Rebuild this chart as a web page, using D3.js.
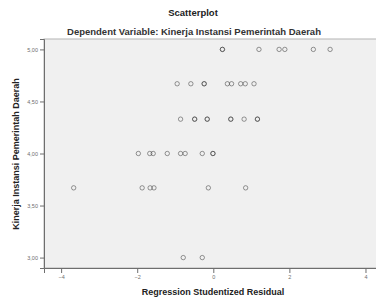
<!DOCTYPE html>
<html>
<head>
<meta charset="utf-8">
<script src="https://cdn.jsdelivr.net/npm/d3@7"></script>
<style>
  body { margin: 0; background: #fff; }
  text { font-family: "Liberation Sans", Arial, sans-serif; }
</style>
</head>
<body>
<div id="chart"></div>
<script>
"use strict"

// residuals and dependent values (overlaps listed twice)
const residual = [
  0.24, 0.24, 1.20, 1.73, 1.88, 2.63, 3.07,
  -0.95, -0.59, -0.24, -0.24, 0.37, 0.48, 0.72, 0.84, 1.07,
  -0.86, -0.49, -0.49, -0.16, -0.16, 0.46, 0.46, 0.81, 1.16, 1.16,
  -1.97, -1.67, -1.58, -1.21, -0.86, -0.74, -0.29, -0.01, -0.01,
  -3.67, -1.87, -1.66, -1.56, -0.13, 0.85,
  -0.79, -0.29
]
const kinerja = [
  5, 5, 5, 5, 5, 5, 5,
  4.67, 4.67, 4.67, 4.67, 4.67, 4.67, 4.67, 4.67, 4.67,
  4.33, 4.33, 4.33, 4.33, 4.33, 4.33, 4.33, 4.33, 4.33, 4.33,
  4, 4, 4, 4, 4, 4, 4, 4, 4,
  3.67, 3.67, 3.67, 3.67, 3.67, 3.67,
  3, 3
]
const xTicks = [-4, -2, 0, 2, 4]
const yTicks = [3, 3.5, 4, 4.5, 5]

const width = 376, height = 298
const plot = {left: 44, right: 382.6, top: 39, bottom: 268}

const svg = d3.select("#chart").append("svg")
  .attr("width", width)
  .attr("height", height)

const x = d3.scaleLinear().domain([-4.45, 4.45]).range([plot.left, plot.right])
const y = d3.scaleLinear().domain([2.9, 5.1]).range([plot.bottom, plot.top])

svg.append("rect")
  .attr("x", plot.left).attr("y", plot.top)
  .attr("width", plot.right - plot.left).attr("height", plot.bottom - plot.top)
  .attr("fill", "#f0f0f0")
  .attr("stroke", "#b4b4b4")
  .attr("stroke-width", 1)

const fmt = d => d3.format(".2f")(d).replace(".", ",")

const yAxis = svg.append("g")
  .attr("transform", `translate(${plot.left},0)`)
  .call(d3.axisLeft(y).tickValues(yTicks).tickFormat(fmt).tickSize(4).tickPadding(2))
yAxis.select(".domain").attr("stroke", "#6e6e6e")
yAxis.selectAll(".tick line").attr("stroke", "#6e6e6e")
yAxis.selectAll("text").attr("fill", "#6e6e6e").style("font-size", "5.5px").style("font-family", "Liberation Sans, Arial, sans-serif")

const xAxis = svg.append("g")
  .attr("transform", `translate(0,${plot.bottom})`)
  .call(d3.axisBottom(x).tickValues(xTicks).tickFormat(d3.format("d")).tickSize(5).tickPadding(2))
xAxis.select(".domain").attr("stroke", "#6e6e6e")
xAxis.selectAll(".tick line").attr("stroke", "#6e6e6e")
xAxis.selectAll("text").attr("fill", "#6e6e6e").style("font-size", "5.5px").style("font-family", "Liberation Sans, Arial, sans-serif")

svg.append("g")
  .selectAll("circle")
  .data(residual.map((r, i) => [r, kinerja[i]]))
  .join("circle")
    .attr("cx", d => x(d[0]))
    .attr("cy", d => y(d[1]))
    .attr("r", 2.2)
    .attr("fill", "none")
    .attr("stroke", "#333")
    .attr("stroke-opacity", 0.5)
    .attr("stroke-width", 1)

svg.append("text")
  .attr("x", 193).attr("y", 16)
  .attr("text-anchor", "middle")
  .style("font-size", "9.5px").style("font-weight", "bold")
  .attr("fill", "#222")
  .text("Scatterplot")

svg.append("text")
  .attr("x", 194).attr("y", 35)
  .attr("text-anchor", "middle")
  .style("font-size", "9.5px").style("font-weight", "bold")
  .attr("fill", "#333")
  .text("Dependent Variable: Kinerja Instansi Pemerintah Daerah")

svg.append("text")
  .attr("transform", `translate(19,154) rotate(-90)`)
  .attr("text-anchor", "middle")
  .style("font-size", "9px").style("font-weight", "bold")
  .attr("fill", "#222")
  .text("Kinerja Instansi Pemerintah Daerah")

svg.append("text")
  .attr("x", 213).attr("y", 295)
  .attr("text-anchor", "middle")
  .style("font-size", "9px").style("font-weight", "bold")
  .attr("fill", "#222")
  .text("Regression Studentized Residual")
</script>
</body>
</html>
